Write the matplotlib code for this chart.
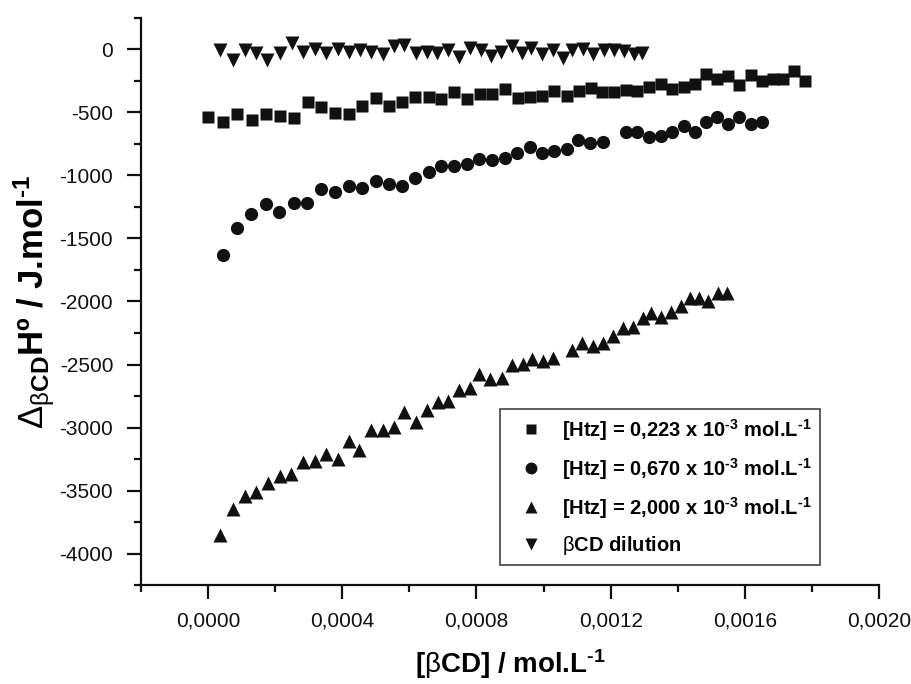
import matplotlib
matplotlib.use("Agg")
import matplotlib.pyplot as plt
from matplotlib.ticker import MultipleLocator, FuncFormatter

plt.rcParams["font.family"] = ["Liberation Sans", "DejaVu Sans"]
plt.rcParams["mathtext.fontset"] = "custom"
plt.rcParams["mathtext.rm"] = "Liberation Sans"
plt.rcParams["mathtext.bf"] = "Liberation Sans:bold"
plt.rcParams["mathtext.it"] = "Liberation Sans:italic"
plt.rcParams["mathtext.default"] = "bf"

# [Htz] = 0,223 x 10^-3 mol/L  (squares)
x_sq = [0.0000, 0.0000435, 0.0000863, 0.000130, 0.000173, 0.000213, 0.000255, 0.000298,
        0.000337, 0.000379, 0.000419, 0.000458, 0.000500, 0.000540, 0.000579, 0.000617,
        0.000657, 0.000694, 0.000733, 0.000773, 0.000810, 0.000847, 0.000885, 0.000923,
        0.000960, 0.000996, 0.001032, 0.001069, 0.001105, 0.001140, 0.001175, 0.001210,
        0.001245, 0.001280, 0.001314, 0.001350, 0.001384, 0.001418, 0.001452, 0.001485,
        0.001518, 0.001551, 0.001584, 0.001617, 0.001651, 0.001684, 0.001713, 0.001748,
        0.001778]
y_sq = [-535, -579, -513, -561, -513, -529, -543, -416,
        -455, -508, -516, -447, -384, -447, -421, -376,
        -376, -394, -336, -397, -357, -357, -317, -384,
        -381, -371, -329, -371, -329, -307, -339, -339,
        -323, -329, -302, -278, -315, -302, -278, -196,
        -236, -212, -283, -204, -249, -238, -238, -170,
        -252]

# [Htz] = 0,670 x 10^-3 mol/L  (circles)
x_ci = [0.0000435, 0.0000863, 0.000129, 0.000173, 0.000212, 0.000255, 0.000296, 0.000337,
        0.000379, 0.000419, 0.000458, 0.000500, 0.000540, 0.000579, 0.000617, 0.000657,
        0.000694, 0.000733, 0.000771, 0.000808, 0.000847, 0.000885, 0.000922, 0.000960,
        0.000994, 0.001031, 0.001069, 0.001103, 0.001138, 0.001176, 0.001245, 0.001280,
        0.001314, 0.001349, 0.001384, 0.001418, 0.001452, 0.001485, 0.001518, 0.001551,
        0.001584, 0.001617, 0.001651]
y_ci = [-1633, -1421, -1310, -1230, -1289, -1217, -1222, -1109,
        -1135, -1085, -1098, -1045, -1071, -1082, -1019, -976,
        -926, -926, -913, -871, -879, -860, -821, -773,
        -825, -805, -794, -720, -746, -733, -654, -654,
        -698, -688, -659, -609, -654, -574, -540, -593,
        -540, -595, -574]

# [Htz] = 2,000 x 10^-3 mol/L  (up triangles)
x_tu = [0.0000366, 0.0000732, 0.000109, 0.000144, 0.000179, 0.000213, 0.000248, 0.000283,
        0.000319, 0.000352, 0.000386, 0.000419, 0.000451, 0.000485, 0.000520, 0.000553,
        0.000585, 0.000619, 0.000652, 0.000685, 0.000716, 0.000749, 0.000781, 0.000809,
        0.000841, 0.000875, 0.000905, 0.000939, 0.000966, 0.000997, 0.001027, 0.001086,
        0.001116, 0.001148, 0.001178, 0.001208, 0.001237, 0.001267, 0.001295, 0.001321,
        0.001351, 0.001379, 0.001409, 0.001438, 0.001463, 0.001490, 0.001520, 0.001548]
y_tu = [-3855, -3649, -3543, -3511, -3440, -3384, -3365, -3273,
        -3268, -3206, -3246, -3106, -3175, -3016, -3021, -2995,
        -2876, -2956, -2857, -2797, -2791, -2704, -2683, -2577,
        -2617, -2603, -2506, -2492, -2458, -2471, -2448, -2387,
        -2328, -2352, -2328, -2276, -2214, -2206, -2135, -2090,
        -2122, -2083, -2035, -1971, -1971, -1998, -1937, -1932]

# beta-CD dilution  (down triangles)
x_td = [0.0000366, 0.0000732, 0.000109, 0.000144, 0.000177, 0.000213, 0.000249, 0.000283,
        0.000318, 0.000352, 0.000386, 0.000419, 0.000453, 0.000486, 0.000520, 0.000553,
        0.000585, 0.000619, 0.000652, 0.000683, 0.000716, 0.000749, 0.000781, 0.000814,
        0.000844, 0.000873, 0.000905, 0.000936, 0.000964, 0.000996, 0.001029, 0.001058,
        0.001085, 0.001118, 0.001148, 0.001180, 0.001210, 0.001240, 0.001269, 0.001292]
y_td = [-6, -85, -6, -32, -85, -32, 48, -19,
        2, -32, 2, -19, -6, -24, -40, 26,
        34, -32, -19, -27, -6, -59, 8, -6,
        -53, -19, 21, -32, 8, -40, -6, -71,
        -6, 0, -40, -6, -6, -13, -40, -27]

labels = ["[Htz] = 0,223 x 10$^{\u20103}$ mol.L$^{\u20101}$",
          "[Htz] = 0,670 x 10$^{\u20103}$ mol.L$^{\u20101}$",
          "[Htz] = 2,000 x 10$^{\u20103}$ mol.L$^{\u20101}$",
          r"$\mathrm{\beta}$CD dilution"]

fig = plt.figure(figsize=(9.11, 6.84), dpi=100)
ax = fig.add_axes([0.1548, 0.1443, 0.8101, 0.8300])

c = "#111111"
ax.plot(x_sq, y_sq, "s", color=c, ms=8.5, mec="none", label=labels[0])
ax.plot(x_ci, y_ci, "o", color=c, ms=9.5, mec="none", label=labels[1])
ax.plot(x_tu, y_tu, "^", color=c, ms=10, mec="none", label=labels[2])
ax.plot(x_td, y_td, "v", color=c, ms=10, mec="none", label=labels[3])

ax.set_xlim(-0.0002, 0.0020)
ax.set_ylim(-4250, 250)
ax.xaxis.set_major_locator(MultipleLocator(0.0004))
ax.xaxis.set_minor_locator(MultipleLocator(0.0002))
ax.yaxis.set_major_locator(MultipleLocator(500))
ax.yaxis.set_minor_locator(MultipleLocator(250))
ax.xaxis.set_major_formatter(FuncFormatter(lambda v, p: f"{v:.4f}".replace(".", ",").replace("-0,0000", "0,0000")))
ax.yaxis.set_major_formatter(FuncFormatter(lambda v, p: f"{v:.0f}"))

for s in ["top", "right"]:
    ax.spines[s].set_visible(False)
for s in ["left", "bottom"]:
    ax.spines[s].set_linewidth(1.6)
    ax.spines[s].set_color("#111111")

ax.tick_params(which="major", direction="out", length=10, width=1.6, labelsize=15,
               colors="#111111", pad=9)
ax.tick_params(which="minor", direction="out", length=5, width=1.6, colors="#111111")
ax.tick_params(axis="y", which="major", pad=10)

ax.set_xlabel("[$\\mathrm{\\beta}$CD] / mol.L$^{\u20101}$", fontsize=20, fontweight="bold",
              labelpad=12)
ax.set_ylabel("$\\mathrm{\\Delta}_{\\mathrm{\\beta}CD}$Hº / J.mol$^{\u20101}$", fontsize=25,
              fontweight="bold", labelpad=2)

leg = ax.legend(loc="lower right", bbox_to_anchor=(0.920, 0.036), borderaxespad=0,
                frameon=True, fancybox=False, edgecolor="#111111", handlelength=2.3,
                handletextpad=0.4, labelspacing=0.65, borderpad=0.4, numpoints=1,
                markerscale=0.9, prop={"size": 14.5, "weight": "bold"})
leg.get_frame().set_linewidth(1.2)

fig.savefig("out.png", dpi=100)
